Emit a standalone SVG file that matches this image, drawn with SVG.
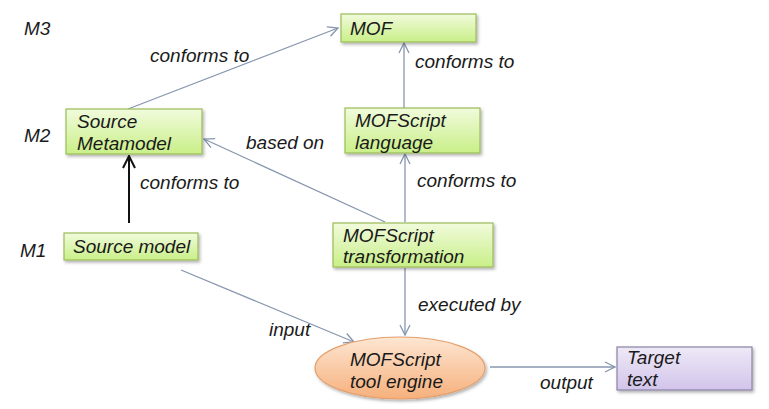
<svg xmlns="http://www.w3.org/2000/svg" width="769" height="409" viewBox="0 0 769 409">
<style>
text{font-family:"Liberation Sans",Arial,sans-serif;font-style:italic;font-size:19px;fill:#1a1a1a}
.g{fill:url(#gg);stroke:#9bbb59;stroke-width:1.2;filter:url(#sh)}
.p{fill:url(#pg);stroke:#8b82a6;stroke-width:1.2;filter:url(#sh)}
.e{fill:url(#og);stroke:#e3a06e;stroke-width:1.2;filter:url(#sh)}
.c{fill:none;stroke:#8796ae;stroke-width:1.3;marker-end:url(#a)}
.k{fill:none;stroke:#111;stroke-width:2;marker-end:url(#ak)}
</style>
<defs>
<linearGradient id="gg" x1="0" y1="0" x2="0" y2="1"><stop offset="0" stop-color="#f1fbdc"/><stop offset="1" stop-color="#c9ef88"/></linearGradient>
<linearGradient id="pg" x1="0" y1="0" x2="0" y2="1"><stop offset="0" stop-color="#eee9f7"/><stop offset="1" stop-color="#d2c4ea"/></linearGradient>
<linearGradient id="og" x1="0" y1="0" x2="0" y2="1"><stop offset="0" stop-color="#fde6d2"/><stop offset="1" stop-color="#f6b07c"/></linearGradient>
<filter id="sh" x="-10%" y="-20%" width="130%" height="150%"><feDropShadow dx="1.5" dy="2" stdDeviation="1.5" flood-color="#000" flood-opacity="0.3"/></filter>
<marker id="a" viewBox="0 0 12 12" refX="11" refY="6" markerWidth="12" markerHeight="12" markerUnits="userSpaceOnUse" orient="auto"><path d="M1,1 L11,6 L1,11" fill="none" stroke="#8796ae" stroke-width="1.3"/></marker>
<marker id="ak" viewBox="0 0 14 14" refX="13" refY="7" markerWidth="14" markerHeight="14" markerUnits="userSpaceOnUse" orient="auto"><path d="M1,1 L13,7 L1,13" fill="none" stroke="#111" stroke-width="2"/></marker>
</defs>

<g id="levels">
<text x="24" y="35">M3</text>
<text x="24" y="142">M2</text>
<text x="20" y="257">M1</text>
</g>

<g id="connectors">
<path class="c" d="M128,109 L338,28"/>
<path class="c" d="M404,108 L404,43"/>
<path class="c" d="M405,222 L405,154"/>
<path class="c" d="M385,222 L204,139"/>
<path class="k" d="M129,223 L129,156"/>
<path class="c" d="M181,270 L354,342"/>
<path class="c" d="M405,268 L405,335"/>
<path class="c" d="M490,367 L615,367"/>
<text x="150" y="62">conforms to</text>
<text x="415" y="68">conforms to</text>
<text x="246" y="149">based on</text>
<text x="140" y="189">conforms to</text>
<text x="417" y="187">conforms to</text>
<text x="418" y="311">executed by</text>
<text x="269" y="336">input</text>
<text x="540" y="389">output</text>
</g>

<g id="mof">
<rect class="g" x="341" y="14" width="135" height="28"/>
<text x="350" y="35">MOF</text>
</g>
<g id="source-metamodel">
<rect class="g" x="66" y="109" width="136" height="45"/>
<text x="77" y="128">Source</text>
<text x="77" y="150">Metamodel</text>
</g>
<g id="mofscript-language">
<rect class="g" x="345" y="108" width="135" height="45"/>
<text x="355" y="127">MOFScript</text>
<text x="355" y="149">language</text>
</g>
<g id="mofscript-transformation">
<rect class="g" x="333" y="223" width="160" height="44"/>
<text x="343" y="242">MOFScript</text>
<text x="343" y="263">transformation</text>
</g>
<g id="source-model">
<rect class="g" x="64" y="233" width="134" height="27"/>
<text x="73" y="253">Source model</text>
</g>
<g id="tool-engine">
<ellipse class="e" cx="400" cy="368" rx="85" ry="31"/>
<text x="350" y="366">MOFScript</text>
<text x="350" y="388">tool engine</text>
</g>
<g id="target-text">
<rect class="p" x="617" y="347" width="135" height="43"/>
<text x="627" y="364">Target</text>
<text x="627" y="386">text</text>
</g>
</svg>
